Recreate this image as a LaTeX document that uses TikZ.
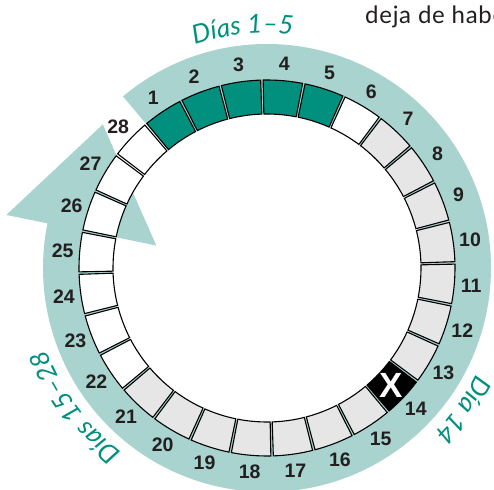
\documentclass[tikz,border=0pt]{standalone}
\usepackage{fontspec}
\usetikzlibrary{decorations.text}
\newfontfamily\labfont{Lato}
\newfontfamily\numfont{Liberation Sans}
\newcommand\labsize{\labfont\itshape\fontsize{26}{28}\selectfont}
\definecolor{bandteal}{HTML}{A8D3CE}
\definecolor{dayteal}{HTML}{00907D}
\definecolor{daygray}{HTML}{E6E6E6}
\definecolor{inkgray}{HTML}{231F20}

\begin{document}
\begin{tikzpicture}[x=1pt, y=1pt,
        band/.style={fill=bandteal},
        daybox/.style={draw=black, line width=1.1pt},
        daynum/.style={font=\numfont\bfseries\fontsize{19.5}{20}\selectfont, text=inkgray, inner sep=0pt},
        xmark/.style={font=\numfont\bfseries\fontsize{35}{35}\selectfont, text=white, inner sep=0pt},
        arclabel/.style={decorate, decoration={text along path, text align=center, text color=dayteal}}]

    \useasboundingbox (-267,-221) rectangle (227,268);

    % band with arrow head
    \fill[band] (130:155) -- (130:224) arc[start angle=130, end angle=-191.5, radius=224]
        -- (-191.5:266) -- ([shift={(168.5:189.5)}]78.5:108) -- (-191.5:113) -- (-191.5:155)
        arc[start angle=-191.5, end angle=130, radius=155] -- cycle;

    % day boxes and numbers
    \foreach \i/\col in {1/dayteal, 2/dayteal, 3/dayteal, 4/dayteal, 5/dayteal, 6/white,
            7/daygray, 8/daygray, 9/daygray, 10/daygray, 11/daygray, 12/daygray, 13/daygray,
            14/black, 15/daygray, 16/daygray, 17/daygray, 18/daygray, 19/daygray, 20/daygray,
            21/daygray, 22/white, 23/white, 24/white, 25/white, 26/white, 27/white, 28/white}{
        \pgfmathsetmacro\a{123.7-(\i-1)*360/28}
        \draw[daybox, fill=\col] (\a+6.05:154) -- (\a+6.05:188)
            arc[start angle=\a+6.05, end angle=\a-6.05, radius=188] -- (\a-6.05:154)
            arc[start angle=\a-6.05, end angle=\a+6.05, radius=154] -- cycle;
        \node[daynum] (n\i) at (\a:205) {\i};
    }
    \node[xmark] (x14) at (-43.44:171) {X};

    % labels along the band
    \path[arclabel, decoration={text={|\labsize|Días 1–5}}]
        (140.8:235) arc[start angle=140.8, end angle=50.8, radius=235];
    \path[arclabel, decoration={text={|\labsize|Día 14}}]
        (9.2:235) arc[start angle=9.2, end angle=-80.8, radius=235];
    \path[arclabel, decoration={text={|\labsize|Días 15–28}}]
        (-99:235) arc[start angle=-99, end angle=-189, radius=235];

    \node[anchor=base west, font=\labfont\addfontfeature{LetterSpace=3}\fontsize{24}{24}\selectfont,
        text=inkgray, inner sep=0pt] (note) at (98,244) {deja de habe};
\end{tikzpicture}
\end{document}
